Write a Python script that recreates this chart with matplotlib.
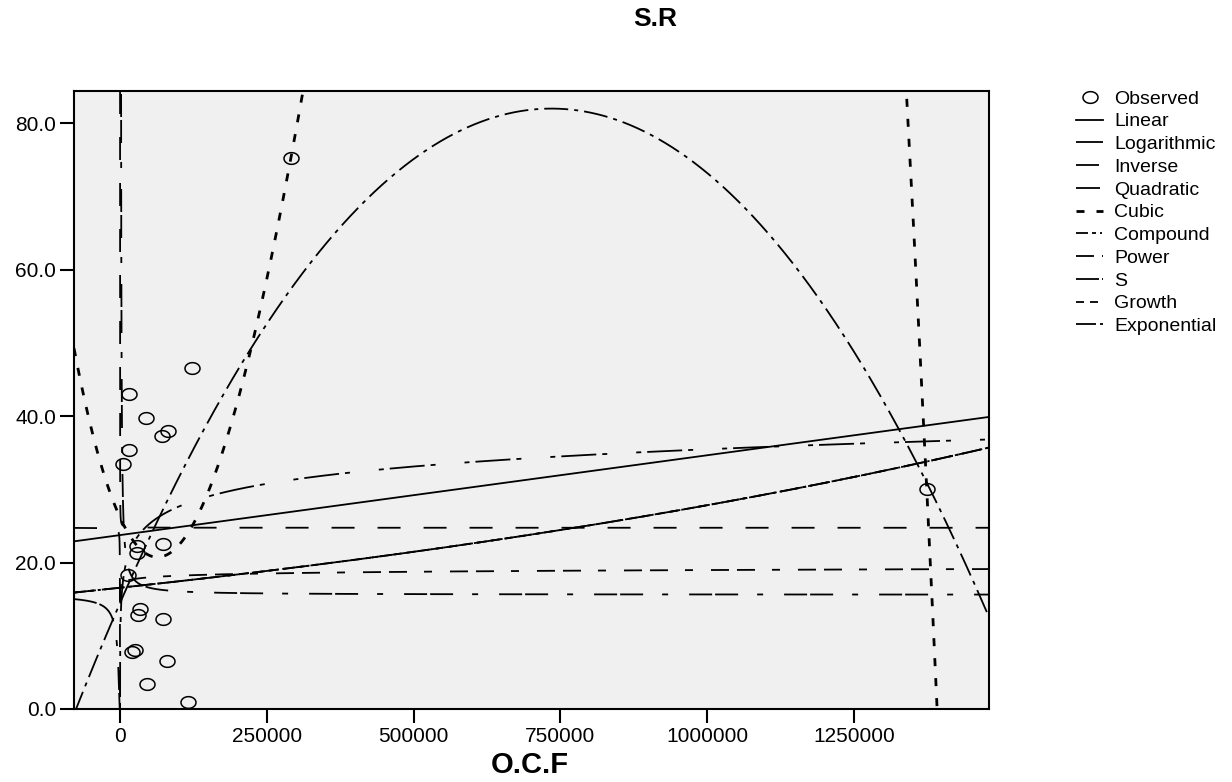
import numpy as np
import matplotlib
matplotlib.use("Agg")
import matplotlib.pyplot as plt
from matplotlib.path import Path

plt.rcParams['font.family'] = ['Liberation Sans', 'DejaVu Sans']
plt.rcParams['lines.scale_dashes'] = False

# ---------------- data ----------------
obs_x = [290700, 122700, 15900, 44300, 82300, 71000, 15900, 5700, 28400, 28400,
         72700, 14200, 34100, 31200, 73800, 25500, 19900, 79500, 46500, 115300, 1374300]
obs_y = [75.2, 46.6, 43.0, 39.7, 38.0, 37.3, 35.4, 33.4, 22.2, 21.3,
         22.5, 18.3, 13.6, 12.8, 12.3, 8.05, 7.8, 6.5, 3.4, 0.9, 30.0]

# model coefficients
linear_b = [23.75, 1.09e-5]
log_b = [-11.5, 3.4]
inverse_b = [24.75, 1500.0]
quad_b = [14.47, 1.8375e-4, -1.25e-10]
cubic_b = [26.16, -1.743e-4, 1.46007e-9, -9.686e-16]
compound_b = [16.56, 1.000000519]
power_b = [14.8, 0.018]
s_b = [2.747, 3000.0]
growth_b = [2.807, 5.19e-7]
expo_b = [16.56, 5.19e-7]

model_names = ['Linear', 'Logarithmic', 'Inverse', 'Quadratic', 'Cubic',
               'Compound', 'Power', 'S', 'Growth', 'Exponential']

x_ticks = [0, 250000, 500000, 750000, 1000000, 1250000]
y_ticks = [0, 20, 40, 60, 80]

x_min, x_max = -78400, 1480400
y_min, y_max = 0.0, 84.4

# ---------------- figure ----------------
fig = plt.figure(figsize=(12.32, 7.82), dpi=100)
ax = fig.add_axes([74/1232, 73/782, 915/1232, 618/782])
ax.set_facecolor('#f0f0f0')

x_neg = -np.geomspace(-x_min, 0.5, 2000)
x_pos = np.concatenate([np.geomspace(0.5, 5e4, 2000), np.linspace(5e4, x_max, 2000)])
x_full = np.concatenate([x_neg, [np.nan], x_pos])
x_lin = np.linspace(x_min, x_max, 3000)

def px(seq):
    return [v * 0.72 for v in seq]

styles = {
    'Linear': dict(ls='-'),
    'Logarithmic': dict(dashes=px([35, 6, 5, 29, 5, 6])),
    'Inverse': dict(dashes=px([23, 23])),
    'Quadratic': dict(dashes=px([24, 6, 4, 6])),
    'Cubic': dict(dashes=px([8, 12])),
    'Compound': dict(dashes=px([12, 4, 4, 4, 2, 4])),
    'Power': dict(dashes=px([18, 8, 18, 17, 8, 18])),
    'S': dict(dashes=px([23, 3, 23, 19, 6, 21])),
    'Growth': dict(dashes=px([8, 6])),
    'Exponential': dict(dashes=px([20, 4, 3, 4])),
}

with np.errstate(all='ignore'):
    curves = {
        'Linear': (x_lin, linear_b[0] + linear_b[1] * x_lin),
        'Logarithmic': (x_pos, log_b[0] + log_b[1] * np.log(x_pos)),
        'Inverse': (x_full, inverse_b[0] + inverse_b[1] / x_full),
        'Quadratic': (x_lin, quad_b[0] + quad_b[1] * x_lin + quad_b[2] * x_lin**2),
        'Cubic': (x_lin, cubic_b[0] + cubic_b[1] * x_lin + cubic_b[2] * x_lin**2 + cubic_b[3] * x_lin**3),
        'Compound': (x_lin, compound_b[0] * compound_b[1] ** x_lin),
        'Power': (x_pos, power_b[0] * x_pos ** power_b[1]),
        'S': (x_full, np.exp(np.clip(s_b[0] + s_b[1] / x_full, -50, 12))),
        'Growth': (x_lin, np.exp(growth_b[0] + growth_b[1] * x_lin)),
        'Exponential': (x_lin, expo_b[0] * np.exp(expo_b[1] * x_lin)),
    }

handles = []
t = np.linspace(0, 2 * np.pi, 60)
ell = Path(np.column_stack([np.cos(t), 0.78 * np.sin(t)]), closed=True)
h_obs, = ax.plot(obs_x, obs_y, ls='none', marker=ell, markersize=10.8,
                 markerfacecolor='none', markeredgecolor='black', markeredgewidth=1.1,
                 label='Observed', zorder=5)
handles.append(h_obs)

for name in model_names:
    xx, yy = curves[name]
    lw = 2.0 if name == 'Cubic' else 1.3
    h, = ax.plot(xx, yy, color='black', lw=lw, label=name, **styles[name])
    handles.append(h)

ax.set_xlim(x_min, x_max)
ax.set_ylim(y_min, y_max)
ax.set_xticks(x_ticks)
ax.set_xticklabels([str(v) for v in x_ticks])
ax.set_yticks(y_ticks)
ax.set_yticklabels([f'{v:.1f}' for v in y_ticks])
ax.tick_params(axis='both', direction='out', width=1.5, labelsize=15, color='black')
ax.tick_params(axis='x', length=10, pad=3)
ax.tick_params(axis='y', length=10, pad=3)
for sp in ax.spines.values():
    sp.set_linewidth(1.5)
    sp.set_color('black')

fig.text(655/1232, 1 - 19/782, 'S.R', ha='center', va='center', fontsize=19, fontweight='bold')
fig.text(530/1232, 1 - 765/782, 'O.C.F', ha='center', va='center', fontsize=21, fontweight='bold')

fig.legend(handles=handles, loc='upper left', bbox_to_anchor=(1076/1232, 1 - 90/782),
           frameon=False, fontsize=14, handlelength=1.4, handletextpad=0.55,
           labelspacing=0.265, borderaxespad=0, borderpad=0)

fig.savefig('out.png', dpi=100, facecolor='white')
